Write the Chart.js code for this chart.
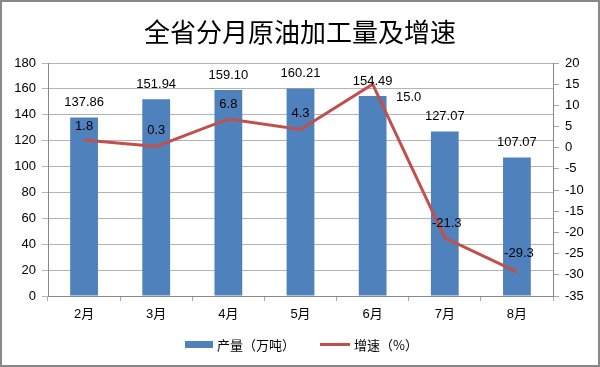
<!DOCTYPE html>
<html>
<head>
<meta charset="utf-8">
<script src="https://cdn.jsdelivr.net/npm/chart.js@4.4.1/dist/chart.umd.min.js"></script>
<style>
  html, body { margin: 0; padding: 0; background: #fff; }
  canvas { display: block; }
</style>
</head>
<body>
<canvas id="c" width="600" height="367"></canvas>
<script>
// ---- data ----
const titleText = '全省分月原油加工量及增速';
const categories = ['2月', '3月', '4月', '5月', '6月', '7月', '8月'];
const outputValues = [137.86, 151.94, 159.10, 160.21, 154.49, 127.07, 107.07];
const growthValues = [1.8, 0.3, 6.8, 4.3, 15.0, -21.3, -29.3];
const outputLabel = '产量（万吨）';
const growthLabel = '增速（%）';
const leftTicks = { min: 0, max: 180, step: 20 };
const rightTicks = { min: -35, max: 20, step: 5 };

const BAR_COLOR = '#4F81BD';
const LINE_COLOR = '#C0504D';
const NUM_FONT = '"Liberation Sans", "Noto Sans CJK SC", sans-serif';
const CJK_FONT = '"Noto Sans CJK SC", "Liberation Sans", sans-serif';

const framePlugin = {
  id: 'frame',
  beforeDraw(chart) {
    const ctx = chart.ctx;
    ctx.save();
    ctx.fillStyle = '#ffffff';
    ctx.fillRect(0, 0, chart.width, chart.height);
    ctx.restore();
  },
  afterDraw(chart) {
    const ctx = chart.ctx;
    ctx.save();
    ctx.strokeStyle = '#888888';
    ctx.lineWidth = 2;
    ctx.strokeRect(1, 1, chart.width - 2, chart.height - 2);
    // title
    ctx.fillStyle = '#000';
    ctx.font = '26px ' + CJK_FONT;
    ctx.textAlign = 'center';
    ctx.textBaseline = 'middle';
    ctx.fillText(titleText, chart.width / 2, 32);
    // legend
    ctx.font = '13px ' + CJK_FONT;
    ctx.textAlign = 'left';
    ctx.fillStyle = BAR_COLOR;
    ctx.fillRect(185, 341, 28, 7);
    ctx.fillStyle = '#000';
    ctx.fillText(outputLabel, 217, 345);
    ctx.strokeStyle = LINE_COLOR;
    ctx.lineWidth = 3;
    ctx.beginPath();
    ctx.moveTo(320, 344.5);
    ctx.lineTo(350, 344.5);
    ctx.stroke();
    ctx.fillText(growthLabel, 354, 345);
    ctx.restore();
  }
};

const labelPlugin = {
  id: 'valueLabels',
  afterDatasetsDraw(chart, args, opts) {
    const ctx = chart.ctx;
    ctx.save();
    ctx.font = '13px ' + NUM_FONT;
    ctx.fillStyle = '#000';
    ctx.textAlign = 'center';
    ctx.textBaseline = 'middle';
    const barMeta = chart.getDatasetMeta(0);
    barMeta.data.forEach((el, i) => {
      ctx.fillText(outputValues[i].toFixed(2), el.x, el.y - 15);
    });
    const lineMeta = chart.getDatasetMeta(1);
    lineMeta.data.forEach((el, i) => {
      const off = (opts.lineOffsets && opts.lineOffsets[i]) || [0, -15];
      ctx.fillText(growthValues[i].toFixed(1), el.x + off[0], el.y + off[1]);
    });
    ctx.restore();
  }
};

new Chart(document.getElementById('c'), {
  data: {
    labels: categories,
    datasets: [
      {
        type: 'bar',
        label: outputLabel,
        data: outputValues,
        backgroundColor: BAR_COLOR,
        borderWidth: 0,
        barPercentage: 0.385,
        categoryPercentage: 1,
        yAxisID: 'y',
        order: 2
      },
      {
        type: 'line',
        label: growthLabel,
        data: growthValues,
        borderColor: LINE_COLOR,
        backgroundColor: LINE_COLOR,
        borderWidth: 3,
        pointRadius: 0,
        tension: 0,
        yAxisID: 'y1',
        order: 1
      }
    ]
  },
  options: {
    responsive: false,
    animation: false,
    devicePixelRatio: 1,
    layout: { padding: { top: 63, bottom: 43, left: 0, right: 0 } },
    plugins: {
      legend: { display: false },
      title: { display: false },
      tooltip: { enabled: false },
      valueLabels: {
        lineOffsets: [[0, -14], [0, -16], [0, -14], [0, -16], [36, 13], [2, -15], [2, -18]]
      }
    },
    scales: {
      x: {
        offset: true,
        grid: { display: true, drawOnChartArea: false, drawTicks: true, tickLength: 5, color: '#A6A6A6', offset: true },
        border: { display: true, color: '#888888' },
        ticks: { color: '#000', font: { size: 13, family: NUM_FONT }, padding: 6 },
        afterFit(s) { s.height = 28; }
      },
      y: {
        position: 'left',
        min: leftTicks.min,
        max: leftTicks.max,
        ticks: { stepSize: leftTicks.step, color: '#000', font: { size: 13, family: NUM_FONT }, padding: 6 },
        grid: { color: '#B4B4B4', tickLength: 6 },
        border: { display: true, color: '#888888' },
        afterFit(s) { s.width = 48; }
      },
      y1: {
        position: 'right',
        min: rightTicks.min,
        max: rightTicks.max,
        ticks: { stepSize: rightTicks.step, color: '#000', font: { size: 13, family: NUM_FONT }, padding: 6 },
        grid: { drawOnChartArea: false, color: '#A6A6A6', tickLength: 6 },
        border: { display: true, color: '#888888' },
        afterFit(s) { s.width = 47; }
      }
    }
  },
  plugins: [framePlugin, labelPlugin]
});
</script>
</body>
</html>
